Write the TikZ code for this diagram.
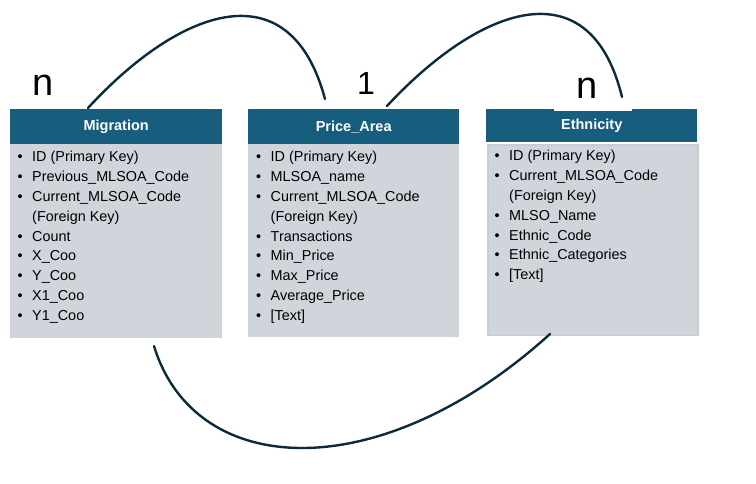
\documentclass[tikz,border=0pt]{standalone}
\usepackage{fontspec}
\setmainfont{Liberation Sans}
\usetikzlibrary{calc}
\definecolor{hdrblue}{RGB}{23,94,126}
\definecolor{bodygray}{RGB}{208,213,220}
\definecolor{bodyedge}{RGB}{198,205,213}
\definecolor{linkcol}{RGB}{11,42,58}
\tikzset{
  hdr/.style={fill=hdrblue, text=white, anchor=north west, inner sep=0pt,
    font=\fontsize{14.5}{17}\selectfont\bfseries},
  bodybox/.style={fill=bodygray, anchor=north west, inner sep=0pt},
  items/.style={anchor=base west, inner sep=0pt, align=left,
    font=\fontsize{14.4}{19.8}\selectfont},
  card/.style={font=\fontsize{38}{40}\selectfont, inner sep=0pt},
  link/.style={draw=linkcol, line width=2.4pt, line cap=round}
}
\newcommand{\bl}{\textbullet}
\begin{document}
\begin{tikzpicture}[x=1pt,y=-1pt]
\useasboundingbox (0,0) rectangle (756,484);

% Migration
\node[bodybox, minimum width=212pt, minimum height=194pt] (migbody) at (10,144) {};
\node[hdr, minimum width=212pt, minimum height=35pt] (mighead) at (10,109) {Migration};
\node[items] (migitems) at (17.5,162) {\begin{tabular}[t]{@{}l@{\hspace{9.5pt}}l@{}}
\bl & ID (Primary Key)\\
\bl & Previous\_MLSOA\_Code\\
\bl & Current\_MLSOA\_Code\\
    & (Foreign Key)\\
\bl & Count\\
\bl & X\_Coo\\
\bl & Y\_Coo\\
\bl & X1\_Coo\\
\bl & Y1\_Coo
\end{tabular}};

% Price_Area
\node[bodybox, minimum width=211pt, minimum height=193pt] (pabody) at (248,144) {};
\node[hdr, minimum width=211pt, minimum height=35pt] (pahead) at (248,109) {Price\_Area};
\node[items] (paitems) at (256,162) {\begin{tabular}[t]{@{}l@{\hspace{9.5pt}}l@{}}
\bl & ID (Primary Key)\\
\bl & MLSOA\_name\\
\bl & Current\_MLSOA\_Code\\
    & (Foreign Key)\\
\bl & Transactions\\
\bl & Min\_Price\\
\bl & Max\_Price\\
\bl & Average\_Price\\
\bl & [Text]
\end{tabular}};

% Ethnicity
\node[bodybox, draw=bodyedge, line width=1.5pt, minimum width=210pt, minimum height=190pt] (ethbody) at (487,144.5) {};
\node[hdr, minimum width=211pt, minimum height=33pt] (ethhead) at (486,109) {Ethnicity};
\node[items] (ethitems) at (494.5,161) {\begin{tabular}[t]{@{}l@{\hspace{9.5pt}}l@{}}
\bl & ID (Primary Key)\\
\bl & Current\_MLSOA\_Code\\
    & (Foreign Key)\\
\bl & MLSO\_Name\\
\bl & Ethnic\_Code\\
\bl & Ethnic\_Categories\\
\bl & [Text]
\end{tabular}};

% cardinality labels
\node[card] (n1) at (43,85) {n};
\node[card, font=\fontsize{32}{34}\selectfont] (one) at (366,83) {1};
\node[fill=white, minimum width=78pt, minimum height=30pt, anchor=south west, inner sep=0pt] (n2box) at (554,111) {};
\node[card] (n2) at (587.5,88) {n};

% connection points
\coordinate (a1) at (88,108);
\coordinate (a2) at (325,99);
\coordinate (b1) at (387,106);
\coordinate (b2) at (622,97);
\coordinate (c1) at (154,346);
\coordinate (c2) at (550,334);

\draw[link] (a1) .. controls (180,8) and (290,-32) .. (a2);
\draw[link] (b1) .. controls (480,6) and (590,-34) .. (b2);
\draw[link] (c1) .. controls (195,480) and (380,488) .. (c2);
\end{tikzpicture}
\end{document}
